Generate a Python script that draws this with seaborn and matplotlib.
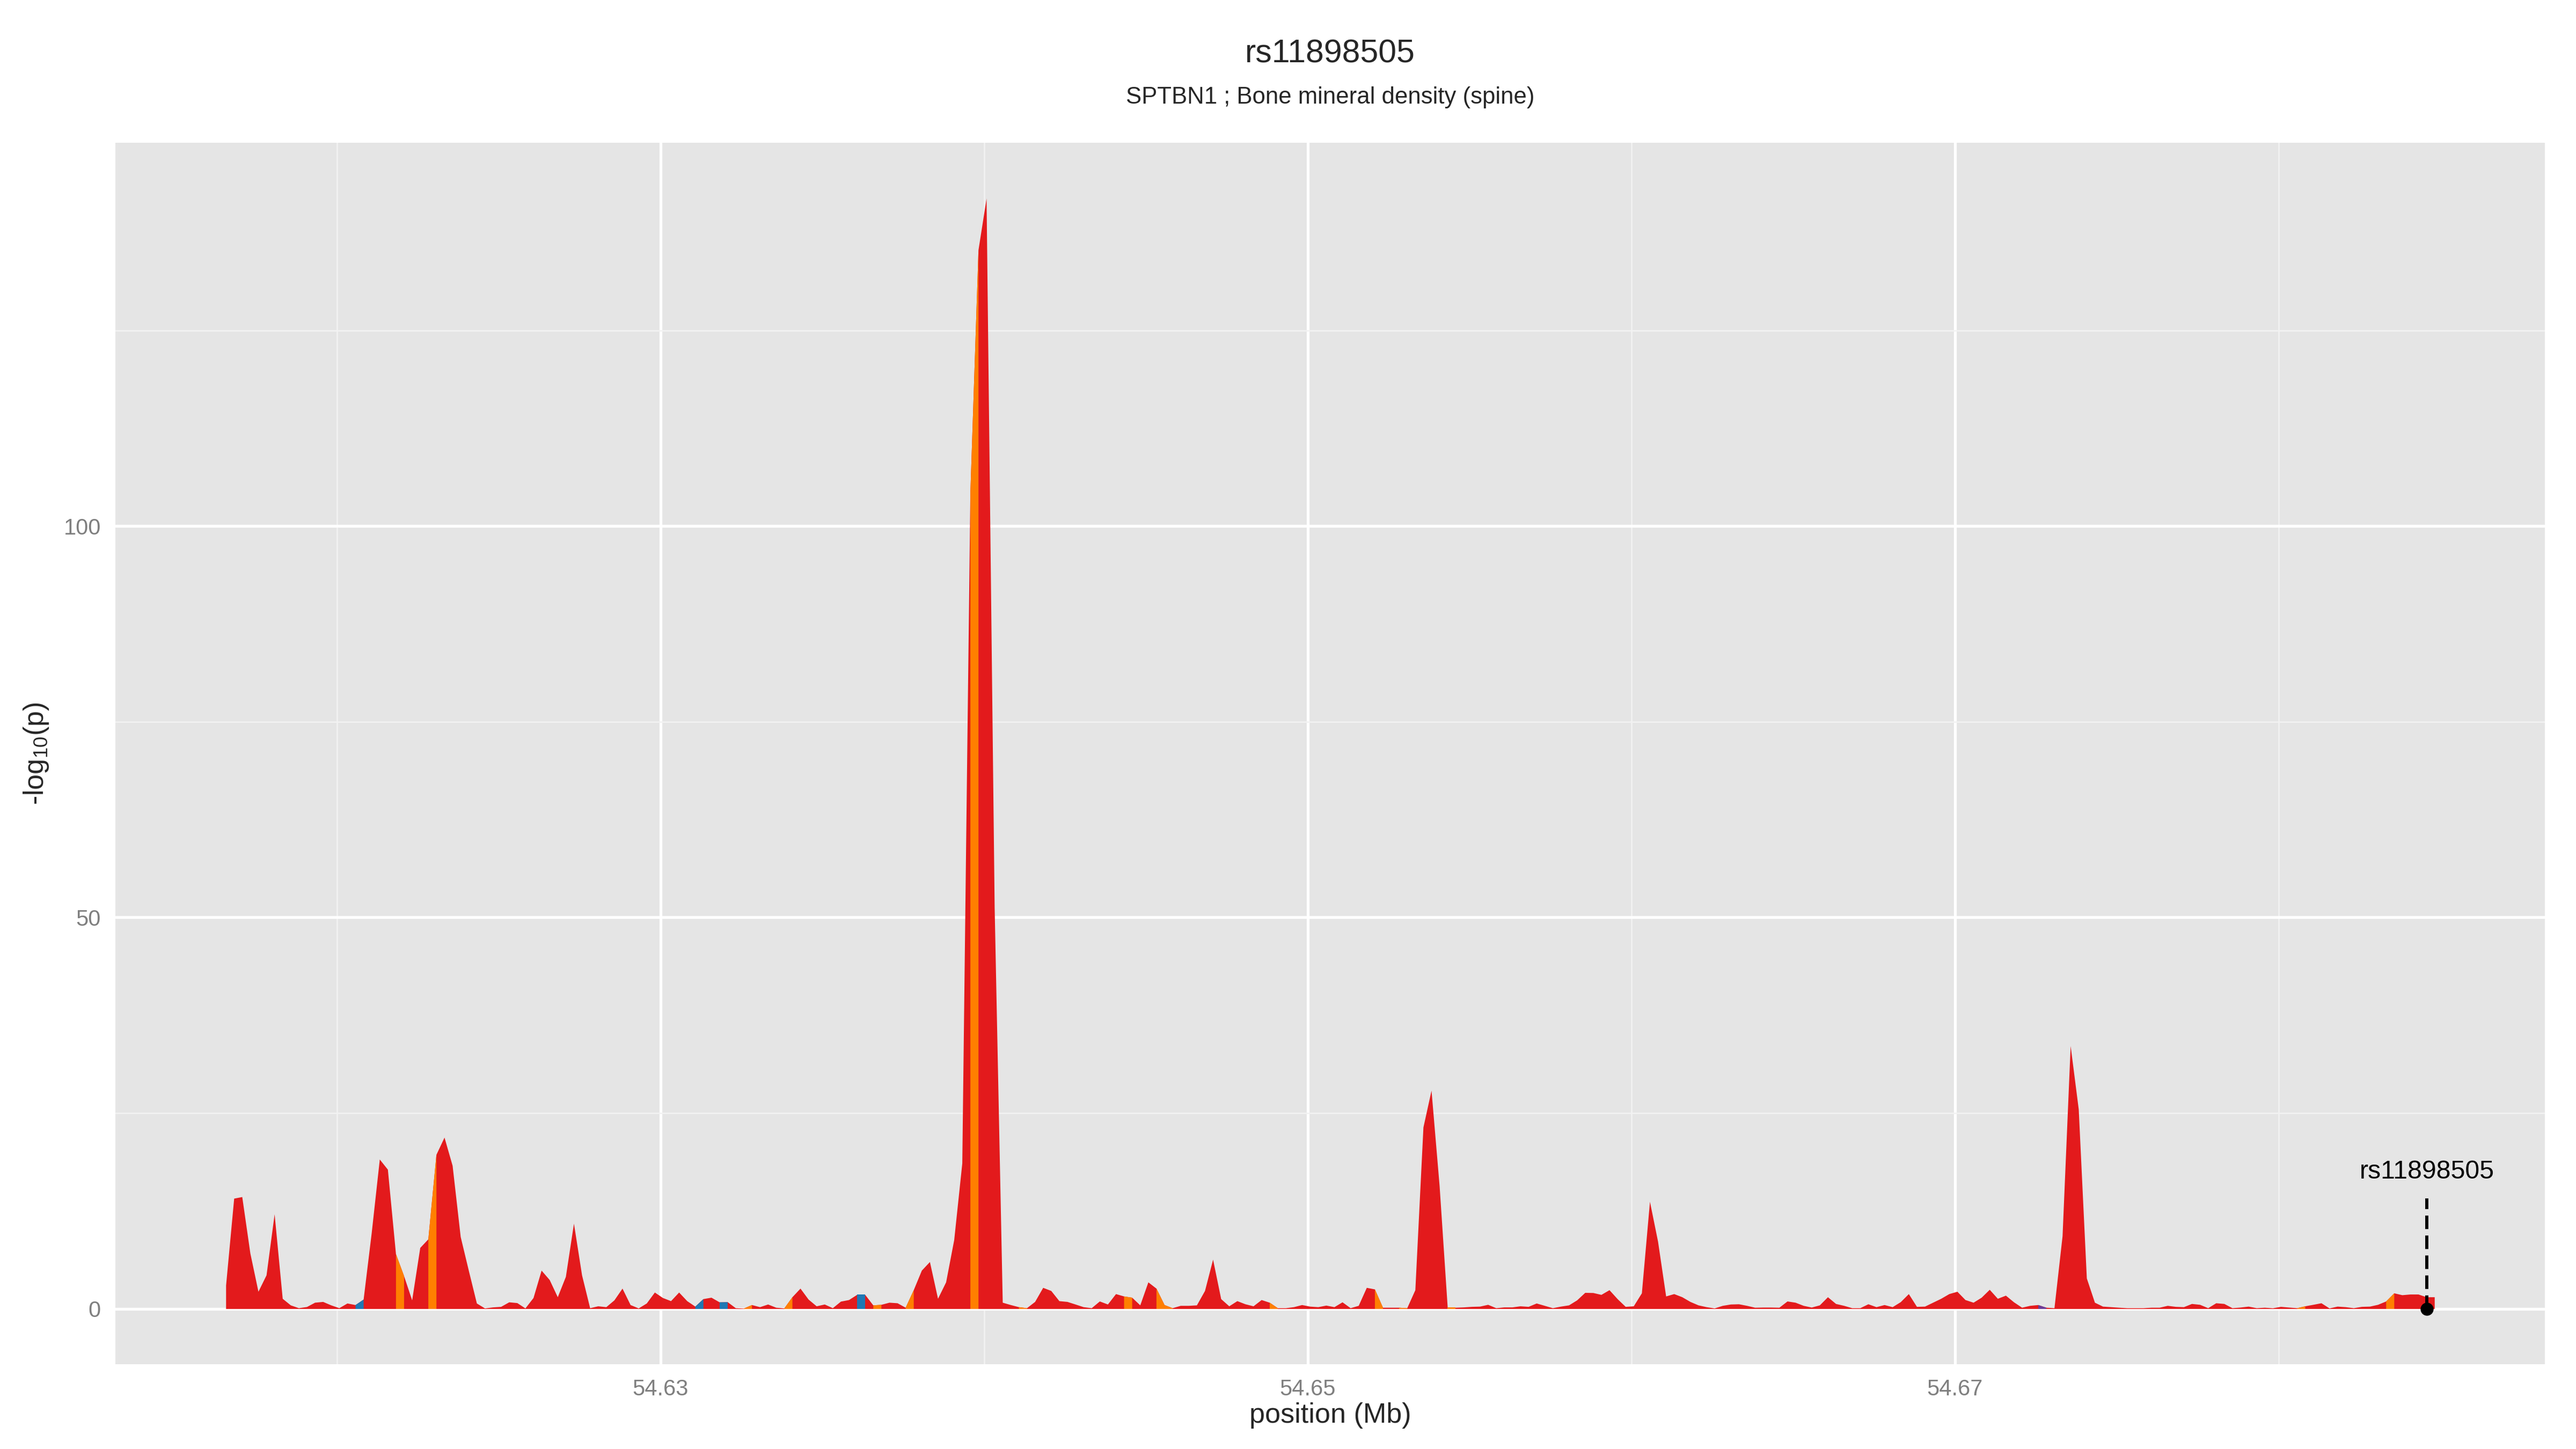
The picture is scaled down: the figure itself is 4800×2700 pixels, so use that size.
import matplotlib
matplotlib.use("Agg")
import matplotlib.pyplot as plt
import numpy as np
import pandas as pd
import seaborn as sns
from matplotlib.ticker import FixedLocator

# association track: -log10(p) on an even 250 bp grid
pos_start_mb = 54.61657
pos_step_mb = 0.00025
neglog10_p = [
    3.0, 14.1, 14.3, 7.1, 2.2, 4.3, 12.1, 1.3, 0.46, 0.1,
    0.25, 0.8, 0.9, 0.46, 0.1, 0.7, 0.5, 1.2, 9.7, 19.1,
    17.8, 7.0, 4.2, 1.1, 7.8, 8.9, 19.7, 21.9, 18.3, 9.2,
    4.9, 0.7, 0.07, 0.2, 0.27, 0.85, 0.75, 0.07, 1.4, 4.9,
    3.7, 1.5, 4.1, 10.9, 4.3, 0.1, 0.34, 0.23, 1.1, 2.6,
    0.5, 0.07, 0.7, 2.1, 1.4, 1.0, 2.1, 1.0, 0.3, 1.26,
    1.44, 0.85, 0.87, 0.1, 0.05, 0.5, 0.23, 0.57, 0.16, 0.07,
    1.5, 2.6, 1.2, 0.34, 0.57, 0.1, 0.94, 1.14, 1.8, 1.8,
    0.46, 0.53, 0.8, 0.73, 0.16, 2.4, 4.9, 6.0, 1.3, 3.4,
    8.8, 18.6, 104.3, 135.3, 141.9, 51.3, 0.8, 0.5, 0.23, 0.1,
    0.9, 2.7, 2.3, 1.0, 0.9, 0.57, 0.23, 0.1, 0.96, 0.57,
    1.9, 1.6, 1.44, 0.46, 3.4, 2.6, 0.5, 0.1, 0.4, 0.4,
    0.46, 2.3, 6.3, 1.26, 0.34, 1.0, 0.6, 0.34, 1.14, 0.8,
    0.1, 0.1, 0.23, 0.5, 0.3, 0.23, 0.43, 0.23, 0.85, 0.1,
    0.4, 2.7, 2.5, 0.16, 0.16, 0.16, 0.1, 2.4, 23.2, 27.9,
    15.7, 0.16, 0.16, 0.2, 0.27, 0.3, 0.53, 0.1, 0.2, 0.2,
    0.34, 0.27, 0.7, 0.4, 0.1, 0.3, 0.46, 1.1, 2.06, 2.04,
    1.8, 2.4, 1.26, 0.27, 0.34, 2.0, 13.7, 8.6, 1.6, 1.9,
    1.5, 0.9, 0.46, 0.23, 0.07, 0.4, 0.57, 0.6, 0.4, 0.16,
    0.18, 0.18, 0.16, 0.96, 0.8, 0.4, 0.18, 0.46, 1.5, 0.64,
    0.4, 0.1, 0.1, 0.6, 0.23, 0.5, 0.23, 0.87, 1.9, 0.27,
    0.3, 0.8, 1.3, 1.9, 2.2, 1.14, 0.8, 1.44, 2.45, 1.3,
    1.7, 0.85, 0.16, 0.4, 0.5, 0.16, 0.1, 9.3, 33.6, 25.5,
    3.9, 0.8, 0.3, 0.23, 0.16, 0.1, 0.1, 0.1, 0.16, 0.16,
    0.4, 0.27, 0.23, 0.64, 0.53, 0.1, 0.73, 0.64, 0.1, 0.18,
    0.3, 0.1, 0.16, 0.09, 0.27, 0.18, 0.1, 0.34, 0.53, 0.73,
    0.07, 0.3, 0.23, 0.1, 0.27, 0.3, 0.53, 0.96, 2.0, 1.76,
    1.85, 1.85, 1.5, 1.5,
]

# segments (index of left point) drawn in a non-default colour
orange_segments = [21, 25, 64, 69, 80, 84, 92, 98, 111, 115, 116, 129, 142, 145, 151, 256, 267]
blue_segments = [16, 58, 61, 78]
purple_segments = [224]

snp_name = "rs11898505"
snp_pos_mb = 54.68458
snp_logp = 0.0

title = "rs11898505"
subtitle = "SPTBN1 ; Bone mineral density (spine)"
x_major = [54.63, 54.65, 54.67]
x_minor = [54.62, 54.64, 54.66, 54.68]
y_major = [0, 50, 100]
y_minor = [25, 75, 125]

RED = "#E31A1C"
SEG_COLOURS = {"orange": "#FF7F00", "blue": "#1F78B4", "purple": "#6A3D9A"}

sns.set_theme(style="darkgrid", rc={
    "axes.facecolor": "#E5E5E5",
    "grid.color": "white",
    "axes.edgecolor": "none",
})
plt.rcParams["font.family"] = ["Liberation Sans", "DejaVu Sans"]
plt.rcParams["mathtext.fontset"] = "custom"
plt.rcParams["mathtext.rm"] = "Liberation Sans"
plt.rcParams["mathtext.it"] = "Liberation Sans"

df = pd.DataFrame({"pos": pos_start_mb + pos_step_mb * np.arange(len(neglog10_p)),
                   "logp": neglog10_p})

fig = plt.figure(figsize=(16, 9), dpi=300)
ax = fig.add_axes([215 / 4800, 1 - 2542 / 2700, (4742 - 215) / 4800, (2542 - 266) / 2700])

ax.fill_between(df["pos"], 0, df["logp"], color=RED, linewidth=0)
for name, segs in [("orange", orange_segments), ("blue", blue_segments), ("purple", purple_segments)]:
    for i in segs:
        part = df.iloc[i:i + 2]
        ax.fill_between(part["pos"], 0, part["logp"], color=SEG_COLOURS[name], linewidth=0)

# lead SNP marker and label
ax.plot([snp_pos_mb, snp_pos_mb], [snp_logp, 14.1], color="black", linewidth=1.44,
        dashes=(4.2, 2.0), zorder=4)
snp_df = pd.DataFrame({"pos": [snp_pos_mb], "logp": [snp_logp]})
sns.scatterplot(data=snp_df, x="pos", y="logp", ax=ax, color="black", s=34,
                linewidth=0, zorder=5, legend=False)
ax.text(snp_pos_mb, 17.5, snp_name, ha="center", va="center", fontsize=11.6, color="black")

xmin, xmax = df["pos"].min(), df["pos"].max()
xpad = (xmax - xmin) * 0.05
ax.set_xlim(xmin - xpad, xmax + xpad)
ymax = max(neglog10_p)
ax.set_ylim(-ymax * 0.05, ymax * 1.05)

ax.xaxis.set_major_locator(FixedLocator(x_major))
ax.xaxis.set_minor_locator(FixedLocator(x_minor))
ax.yaxis.set_major_locator(FixedLocator(y_major))
ax.yaxis.set_minor_locator(FixedLocator(y_minor))
ax.set_xticklabels([f"{v:.2f}" for v in x_major])
ax.set_yticklabels([str(v) for v in y_major])
ax.grid(which="major", color="white", linewidth=1.27)
ax.grid(which="minor", color="#F2F2F2", linewidth=0.64)
ax.set_axisbelow(True)
ax.tick_params(axis="both", which="major", length=4.3, width=1.2, color="#7F7F7F",
               labelcolor="#7F7F7F", labelsize=10, pad=2.2)
ax.tick_params(axis="both", which="minor", length=0)
for s in ax.spines.values():
    s.set_visible(False)

ax.set_xlabel("")
ax.set_ylabel("")
fig.text(0.5 * (215 + 4742) / 4800, 1 - 2638 / 2700, "position (Mb)", ha="center", va="center",
         fontsize=12.5)
fig.text(67 / 4800, 1 - ((2542 + 266) / 2) / 2700, r"-log$_{10}$(p)", ha="center", va="center",
         rotation=90, fontsize=12.5)
fig.text(0.5 * (215 + 4742) / 4800, 1 - 101 / 2700, title, ha="center", va="center", fontsize=14.6)
fig.text(0.5 * (215 + 4742) / 4800, 1 - 181 / 2700, subtitle, ha="center", va="center", fontsize=10.5)

fig.savefig("out.png", dpi=300, facecolor="white")
